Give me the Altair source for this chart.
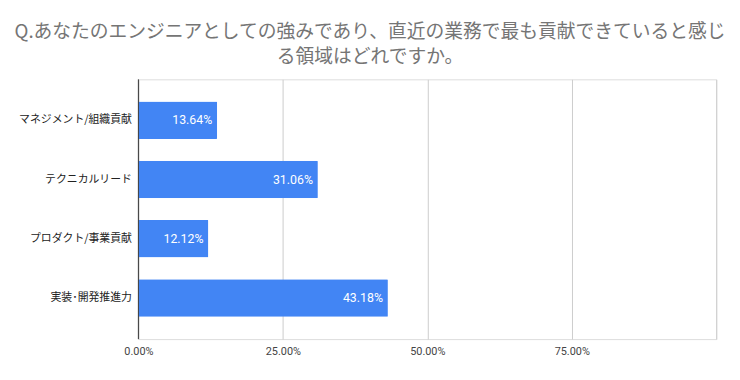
import altair as alt
import pandas as pd

categories = ["マネジメント/組織貢献", "テクニカルリード", "プロダクト/事業貢献", "実装･開発推進力"]
values = [0.1364, 0.3106, 0.1212, 0.4318]
labels = ["13.64%", "31.06%", "12.12%", "43.18%"]
tick_values = [0, 0.25, 0.5, 0.75, 1.0]

df = pd.DataFrame({"category": categories, "value": values, "label": labels})

title_lines = ["Q.あなたのエンジニアとしての強みであり、直近の業務で最も貢献できていると感じ",
               "る領域はどれですか。"]

base = alt.Chart(df).encode(
    y=alt.Y("category:N", sort=categories, title=None,
            scale=alt.Scale(paddingInner=0.367, paddingOuter=0.375),
            axis=alt.Axis(labelFont="Noto Sans CJK JP", labelFontSize=11, labelColor="#222222",
                          ticks=False, domain=False, labelPadding=7, grid=False,
                          minExtent=126, maxExtent=126)),
)

bars = base.mark_bar(color="#4285F4", cornerRadius=1).encode(
    x=alt.X("value:Q", title=None,
            scale=alt.Scale(domain=[0, 1], nice=False),
            axis=alt.Axis(values=tick_values, format=".2%",
                          labelExpr="datum.value >= 1 ? '' : datum.label",
                          labelFont="Roboto", labelFontSize=11, labelColor="#444444",
                          labelPadding=7, labelFlush=False,
                          ticks=False, domain=False, grid=True, gridColor="#cccccc",
                          gridWidth=1))
)

zero = alt.Chart(pd.DataFrame({"value": [0.0]})).mark_rule(color="#333333", strokeWidth=1).encode(
    x=alt.X("value:Q")
)

text = base.mark_text(align="right", baseline="middle", dx=-5, color="white",
                      font="Roboto", fontSize=12.5).encode(
    x=alt.X("value:Q"),
    text="label:N"
)

chart = alt.layer(bars, zero, text).properties(
    width=585, height=263,
    padding={"top": 13, "left": 5, "right": 5, "bottom": 5},
    title=alt.TitleParams(title_lines, anchor="middle", frame="bounds",
                          font="Noto Sans CJK JP", fontSize=19, fontWeight="normal",
                          color="#757575", lineHeight=25, offset=12, dx=5)
).configure_view(strokeWidth=0, stroke="transparent").configure(background="white")

chart.save("out.html", embed_options={"renderer": "svg", "actions": False})
